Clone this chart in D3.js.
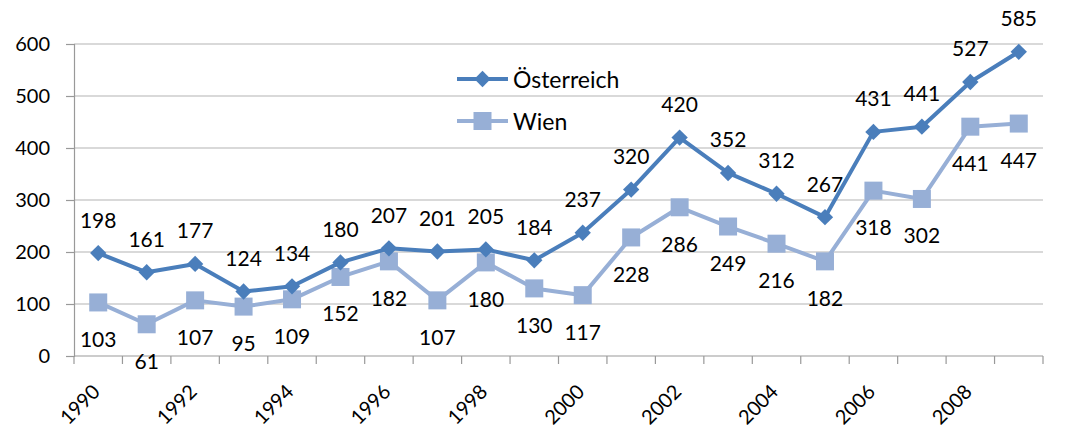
<!DOCTYPE html>
<html>
<head>
<meta charset="utf-8">
<script src="https://cdn.jsdelivr.net/npm/d3@7"></script>
<style>
  html, body { margin: 0; padding: 0; background: #fff; }
  svg { display: block; font-family: Lato, "Open Sans", sans-serif; }
</style>
</head>
<body>
<svg id="chart" width="1085" height="430"></svg>
<script>
const years = [1990,1991,1992,1993,1994,1995,1996,1997,1998,1999,2000,2001,2002,2003,2004,2005,2006,2007,2008,2009];
const oesterreich = [198,161,177,124,134,180,207,201,205,184,237,320,420,352,312,267,431,441,527,585];
const wien = [103,61,107,95,109,152,182,107,180,130,117,228,286,249,216,182,318,302,441,447];
const yTicks = [0,100,200,300,400,500,600];
const xTickLabels = [1990,1992,1994,1996,1998,2000,2002,2004,2006,2008];
const seriesNames = ["Österreich", "Wien"];

const svg = d3.select("#chart");
const plotLeft = 74, plotRight = 1043, plotTop = 44, plotBottom = 356;

const x = d3.scaleBand().domain(years).range([plotLeft, plotRight]);
const y = d3.scaleLinear().domain([0, 600]).range([plotBottom, plotTop]);
const cx = d => x(d) + x.bandwidth() / 2;

const cDark = "#4A7EBB";
const cLight = "#97AFD6";
const labelSize = 21;

// horizontal gridlines
svg.append("g").selectAll("line").data(yTicks.filter(v => v > 0)).join("line")
  .attr("x1", plotLeft).attr("x2", plotRight)
  .attr("y1", d => y(d)).attr("y2", d => y(d))
  .attr("stroke", "#b3b3b3").attr("stroke-width", 1.2);

// y axis
const yAxis = svg.append("g").attr("transform", `translate(${plotLeft},0)`)
  .call(d3.axisLeft(y).tickValues(yTicks).tickSize(8).tickPadding(16));
yAxis.select(".domain").attr("stroke", "#999").attr("stroke-width", 1.2);
yAxis.selectAll(".tick line").attr("stroke", "#999").attr("stroke-width", 1.2);
yAxis.selectAll("text").attr("font-size", 20).attr("fill", "#000")
  .attr("font-family", "Lato, 'Open Sans', sans-serif");

// x axis: ticks between categories
const xg = svg.append("g");
xg.append("line").attr("x1", plotLeft).attr("x2", plotRight).attr("y1", plotBottom).attr("y2", plotBottom)
  .attr("stroke", "#999").attr("stroke-width", 1.2);
const boundaries = years.map(d => x(d)).concat([plotRight]);
xg.selectAll("line.tk").data(boundaries).join("line").attr("class", "tk")
  .attr("x1", d => d).attr("x2", d => d).attr("y1", plotBottom).attr("y2", plotBottom + 8)
  .attr("stroke", "#999").attr("stroke-width", 1.2);
xg.selectAll("text").data(xTickLabels).join("text")
  .attr("transform", d => `translate(${cx(d) + 3},${plotBottom + 37}) rotate(-45)`)
  .attr("text-anchor", "end")
  .attr("font-size", 20).text(d => d);

const line = d3.line().x((d, i) => cx(years[i])).y(d => y(d));

// Wien series
svg.append("path").datum(wien).attr("d", line)
  .attr("fill", "none").attr("stroke", cLight).attr("stroke-width", 4).attr("stroke-linejoin", "round");
svg.append("g").selectAll("rect").data(wien).join("rect")
  .attr("x", (d, i) => cx(years[i]) - 9).attr("y", d => y(d) - 9)
  .attr("width", 18).attr("height", 18).attr("fill", cLight);

// Österreich series
svg.append("path").datum(oesterreich).attr("d", line)
  .attr("fill", "none").attr("stroke", cDark).attr("stroke-width", 4).attr("stroke-linejoin", "round");
const diamond = d3.symbol().type(d3.symbolDiamond2).size(170);
svg.append("g").selectAll("path").data(oesterreich).join("path")
  .attr("transform", (d, i) => `translate(${cx(years[i])},${y(d)})`)
  .attr("d", diamond()).attr("fill", cDark);

// data labels
svg.append("g").selectAll("text").data(oesterreich).join("text")
  .attr("x", (d, i) => cx(years[i])).attr("y", d => y(d) - 34)
  .attr("text-anchor", "middle").attr("dominant-baseline", "central")
  .attr("font-size", labelSize).text(d => d);
svg.append("g").selectAll("text").data(wien).join("text")
  .attr("x", (d, i) => cx(years[i])).attr("y", d => y(d) + 36)
  .attr("text-anchor", "middle").attr("dominant-baseline", "central")
  .attr("font-size", labelSize).text(d => d);

// legend
const legend = svg.append("g");
const legendItems = [
  { name: seriesNames[0], color: cDark, yPos: 79, kind: "diamond" },
  { name: seriesNames[1], color: cLight, yPos: 121, kind: "square" }
];
legendItems.forEach(it => {
  legend.append("line").attr("x1", 457).attr("x2", 508).attr("y1", it.yPos).attr("y2", it.yPos)
    .attr("stroke", it.color).attr("stroke-width", 4);
  if (it.kind === "diamond") {
    legend.append("path").attr("transform", `translate(482.5,${it.yPos})`)
      .attr("d", diamond()).attr("fill", it.color);
  } else {
    legend.append("rect").attr("x", 473.5).attr("y", it.yPos - 9).attr("width", 18).attr("height", 18)
      .attr("fill", it.color);
  }
  legend.append("text").attr("x", 513).attr("y", it.yPos).attr("dominant-baseline", "central")
    .attr("font-size", 23).text(it.name);
});
</script>
</body>
</html>
